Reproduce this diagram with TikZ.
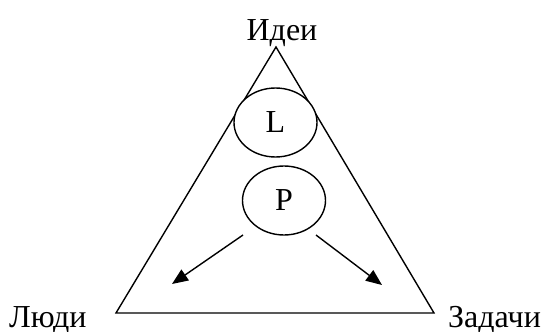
\documentclass[tikz,border=0pt]{standalone}
\usepackage{fontspec}
\setmainfont{Liberation Serif}
\usetikzlibrary{positioning, arrows.meta, shapes.geometric}
\tikzset{
  edge/.style  ={line width=1.4pt, color=black, line join=miter},
  circ/.style  ={ellipse, draw, fill=white, line width=1.4pt, minimum width=83pt,
                 minimum height=69pt, inner sep=0pt, font=\fontsize{32}{38}\selectfont},
  corner/.style={font=\fontsize{32}{38}\selectfont, inner sep=0pt},
  arr/.style   ={-{Triangle[length=16pt, width=13pt]}, line width=1.4pt, color=black},
}
\begin{document}
\begin{tikzpicture}[x=1pt, y=-1pt]
\useasboundingbox (0,0) rectangle (541,332);
\coordinate (apex) at (276,47);
\coordinate (left) at (116,313);
\coordinate (right) at (434,313);
\draw[edge] (apex) -- (left) -- (right) -- cycle;
\node[corner, anchor=base] (ideas) at (282,40) {Идеи};
\node[corner, anchor=base west] (people) at (9,327) {Люди};
\node[corner, anchor=base west] (tasks) at (448,327) {Задачи};
\node[circ] (lead) at (275.5,122.5) {L};
\node[circ] (plan) at (284,200.5) {P};
\coordinate (fromP) at (243,235);
\coordinate (toPeople) at (172,284);
\coordinate (fromQ) at (316,235);
\coordinate (toTasks) at (382,285);
\draw[arr] (fromP) -- (toPeople);
\draw[arr] (fromQ) -- (toTasks);
\end{tikzpicture}
\end{document}
